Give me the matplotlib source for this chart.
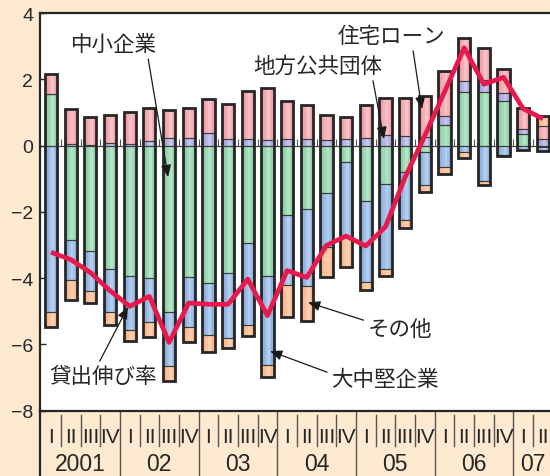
import numpy as np
import matplotlib
matplotlib.use("Agg")
from matplotlib import pyplot as plt
from matplotlib.transforms import blended_transform_factory

#%% Data (前年比寄与度, %)
years = ["2001", "02", "03", "04", "05", "06", "07"]
quarters = ["I", "II", "III", "IV"] * 6 + ["I", "II"]

lending_growth = [-3.22, -3.44, -3.83, -4.38, -4.85, -4.55, -5.94, -4.75, -4.79, -4.79,
                  -4.03, -5.13, -3.77, -3.98, -3.01, -2.73, -3.03, -2.45, -0.95, 0.30,
                  1.62, 2.95, 1.85, 2.06, 1.11, 0.81]  # 貸出伸び率
small_firms = [1.56, -2.85, -3.19, -3.72, -3.93, -4.01, -5.03, -3.96, -4.16, -3.86,
               -2.95, -3.95, -2.09, -1.91, -1.43, -0.50, -1.66, -1.16, -0.81, -0.18,
               0.63, 1.63, 1.63, 1.33, 0.35, -0.05]  # 中小企業
large_firms = [-5.01, -1.21, -1.21, -1.31, -1.63, -1.30, -1.62, -1.51, -1.56, -1.95,
               -2.46, -2.68, -2.12, -2.32, -1.64, -2.25, -2.45, -2.57, -1.44, -1.01,
               -0.65, -0.20, -1.08, -0.28, -0.12, -0.10]  # 大中堅企業
local_gov = [0.0, 0.06, 0.02, 0.07, 0.05, 0.15, 0.23, 0.22, 0.38, 0.19,
             0.19, 0.17, 0.20, 0.20, 0.18, 0.20, 0.23, 0.33, 0.30, 0.25,
             0.25, 0.31, 0.36, 0.26, 0.15, 0.20]  # 地方公共団体
housing = [0.61, 1.05, 0.83, 0.84, 0.96, 0.99, 0.85, 0.92, 1.02, 1.06,
           1.47, 1.57, 1.14, 1.03, 0.74, 0.67, 1.00, 1.11, 1.14, 1.26,
           1.36, 1.31, 0.95, 0.71, 0.63, 0.38]  # 住宅ローン
other = [-0.45, -0.59, -0.36, -0.38, -0.33, -0.46, -0.45, -0.47, -0.52, -0.30,
         -0.33, -0.35, -0.96, -1.06, -0.91, -0.91, -0.24, -0.20, -0.25, -0.22,
         -0.21, -0.17, -0.11, -0.03, 0.0, 0.30]  # その他

#%% Style
bg = "#FDEAD0"
dark = "#262626"
jp = ["Noto Sans CJK JP", "DejaVu Sans"]
num = ["Liberation Sans", "DejaVu Sans"]
narrow = ["Liberation Sans Narrow", "Liberation Sans", "DejaVu Sans"]

stack = [
    (small_firms, "#8DD2A6"),
    (large_firms, "#8DB2E2"),
    (local_gov, "#A8A6DC"),
    (housing, "#F5A0A7"),
    (other, "#FDB78A"),
]

fig = plt.figure(figsize=(5.5, 4.77), dpi=100, facecolor=bg)
ax = fig.add_axes([40 / 550, 1 - 411.7 / 477, 510 / 550, 397.7 / 477])
ax.set_facecolor("white")

x = np.arange(len(quarters))
width = 0.62

# Stacked bars: positive and negative parts pile up separately
pos_base = np.zeros(len(x))
neg_base = np.zeros(len(x))
for vals, color in stack:
    v = np.array(vals)
    base = np.where(v >= 0, pos_base, neg_base)
    ax.bar(x, v, width, bottom=base, color=color, linewidth=0, zorder=2)
    ax.bar(x, v, width, bottom=base, fill=False, edgecolor="#3c3c3c",
           linewidth=0.8, zorder=4)
    pos_base += np.clip(v, 0, None)
    neg_base += np.clip(v, None, 0)

# soft highlight down each bar
total = pos_base - neg_base
ax.bar(x + 0.05, total, width * 0.5, bottom=neg_base, color="white",
       alpha=0.18, linewidth=0, zorder=3)
ax.bar(x + 0.07, total, width * 0.22, bottom=neg_base, color="white",
       alpha=0.22, linewidth=0, zorder=3)
# outer frame of each bar
ax.bar(x, total, width, bottom=neg_base, fill=False, edgecolor=dark,
       linewidth=2.0, zorder=5)

ax.plot(x, lending_growth, color="#E8194C", lw=3.4, zorder=6,
        solid_capstyle="butt")

# zero line with small quarter ticks
bounds = x[:-1] + 0.5
ax.axhline(0, color="#444444", lw=0.9, zorder=1.5)
ax.vlines(bounds, 0, 0.2, color="#555555", lw=0.8, zorder=1.5)

ax.set_xlim(-0.56, 25.36)
ax.set_ylim(-8, 4)
ax.set_xticks([])
ax.set_yticks(range(-8, 5, 2))
ax.tick_params(axis="y", direction="in", length=4, width=1, pad=5,
               labelsize=14, colors=dark)
for lab in ax.get_yticklabels():
    lab.set_family(num)
for side in ["top", "left", "bottom"]:
    ax.spines[side].set_linewidth(1.6)
    ax.spines[side].set_color(dark)
ax.spines["right"].set_visible(False)

# Quarter / year band under the axis
tr = blended_transform_factory(ax.transData, ax.transAxes)
for i, q in enumerate(quarters):
    ax.text(i, -0.064, q, transform=tr, ha="center", va="center",
            fontsize=15, family=narrow, color=dark)
year_bounds = [3.5, 7.5, 11.5, 15.5, 19.5, 23.5]
year_centers = [1.5, 5.5, 9.5, 13.5, 17.5, 21.5, 24.5]
for b in bounds:
    if b in year_bounds:
        ax.plot([b, b], [0, -0.17], transform=tr, color="#555555", lw=1.0,
                clip_on=False)
    else:
        ax.plot([b, b], [-0.011, -0.089], transform=tr, color="#555555",
                lw=1.0, clip_on=False)
ax.plot([0, 0], [0, -0.17], transform=ax.transAxes, color=dark, lw=1.6,
        clip_on=False)
for c, yr in zip(year_centers, years):
    ax.text(c, -0.134, yr, transform=tr, ha="center", va="center",
            fontsize=16.5, family=num, color=dark)

# Labels with arrows
def label(text, tip, pos, relpos):
    ax.annotate(text, xy=tip, xytext=pos, ha="center", va="center",
                fontsize=15.5, family=jp, color=dark, zorder=8,
                arrowprops=dict(arrowstyle="-|>,head_length=0.6,head_width=0.25",
                                color="#1a1a1a", lw=0.9, mutation_scale=12,
                                relpos=relpos, shrinkA=1, shrinkB=0))

label("中小企業", (5.95, -0.95), (3.2, 3.07), (0.89, 0.0))
label("住宅ローン", (18.85, 1.1), (17.28, 3.31), (0.7, 0.0))
label("地方公共団体", (16.92, 0.2), (13.57, 2.41), (0.92, 0.0))
label("その他", (13.06, -4.73), (17.73, -5.54), (0.0, 0.85))
label("大中堅企業", (11.13, -6.2), (16.97, -7.05), (0.0, 0.75))
label("貸出伸び率", (3.91, -4.87), (2.64, -6.96), (0.45, 1.0))

fig.savefig("out.png", dpi=100, facecolor=bg)
